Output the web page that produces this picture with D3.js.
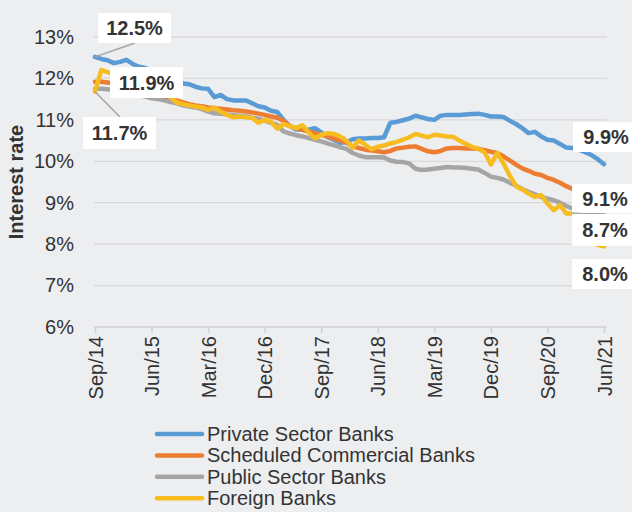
<!DOCTYPE html>
<html>
<head>
<meta charset="utf-8">
<script src="https://cdn.jsdelivr.net/npm/d3@7"></script>
<style>
  body { margin: 0; background: #edeef0; }
  text { font-family: "Liberation Sans", Arial, sans-serif; fill: #333; }
</style>
</head>
<body>
<svg id="chart" width="632" height="512"></svg>
<script>
// monthly, Sep 2014 .. Jun 2021
var months = d3.timeMonth.range(new Date(2014, 8, 1), new Date(2021, 6, 1));
var tickLabels = ["Sep/14", "Jun/15", "Mar/16", "Dec/16", "Sep/17", "Jun/18", "Mar/19", "Dec/19", "Sep/20", "Jun/21"];
var yTicks = [6, 7, 8, 9, 10, 11, 12, 13];
var seriesNames = ["Private Sector Banks", "Scheduled Commercial Banks", "Public Sector Banks", "Foreign Banks"];
var colors = ["#5b9bd5", "#ed7d31", "#a5a5a5", "#f7bc20"];

var privateBanks = [12.52, 12.47, 12.44, 12.37, 12.40, 12.45, 12.35, 12.28, 12.25, 12.20,
    12.15, 12.10, 12.05, 11.98, 11.88, 11.86, 11.80, 11.76, 11.75, 11.55,
    11.60, 11.50, 11.47, 11.47, 11.47, 11.40, 11.33, 11.30, 11.22, 11.19,
    11.00, 10.85, 10.77, 10.76, 10.76, 10.80, 10.70, 10.58, 10.52, 10.45,
    10.46, 10.53, 10.55, 10.55, 10.56, 10.56, 10.58, 10.93, 10.95, 10.99,
    11.03, 11.10, 11.06, 11.02, 11.00, 11.10, 11.12, 11.12, 11.12, 11.13,
    11.14, 11.15, 11.12, 11.08, 11.08, 11.07, 10.98, 10.90, 10.80, 10.68,
    10.71, 10.60, 10.52, 10.50, 10.42, 10.33, 10.32, 10.28, 10.22, 10.15,
    10.05, 9.93];
var scheduledBanks = [11.92, 11.92, 11.90, 11.88, 11.85, 11.80, 11.75, 11.70, 11.65, 11.60,
    11.57, 11.53, 11.50, 11.47, 11.42, 11.38, 11.35, 11.33, 11.30, 11.28,
    11.27, 11.25, 11.23, 11.22, 11.20, 11.18, 11.15, 11.12, 11.08, 11.05,
    10.97, 10.85, 10.80, 10.76, 10.72, 10.68, 10.64, 10.60, 10.55, 10.50,
    10.45, 10.36, 10.32, 10.28, 10.26, 10.24, 10.22, 10.25, 10.31, 10.33,
    10.35, 10.36, 10.30, 10.24, 10.22, 10.25, 10.31, 10.32, 10.32, 10.31,
    10.31, 10.30, 10.27, 10.23, 10.20, 10.12, 10.02, 9.92, 9.83, 9.77,
    9.70, 9.67, 9.60, 9.55, 9.48, 9.40, 9.33, 9.28, 9.23, 9.18,
    9.14, 9.10];
var publicBanks = [11.75, 11.75, 11.74, 11.72, 11.70, 11.68, 11.64, 11.60, 11.56, 11.52,
    11.50, 11.47, 11.43, 11.40, 11.35, 11.32, 11.30, 11.26, 11.20, 11.16,
    11.15, 11.13, 11.11, 11.10, 11.08, 11.05, 11.03, 10.98, 10.93, 10.88,
    10.72, 10.67, 10.63, 10.60, 10.56, 10.52, 10.48, 10.43, 10.39, 10.34,
    10.30, 10.20, 10.14, 10.10, 10.10, 10.10, 10.09, 10.02, 9.99, 9.98,
    9.95, 9.82, 9.79, 9.80, 9.82, 9.84, 9.86, 9.85, 9.85, 9.84,
    9.82, 9.80, 9.72, 9.63, 9.60, 9.56, 9.48, 9.41, 9.33, 9.26,
    9.20, 9.14, 9.10, 9.06, 9.00, 8.92, 8.86, 8.80, 8.76, 8.73,
    8.71, 8.70];
var foreignBanks = [11.68, 12.20, 12.15, 12.10, 12.05, 12.00, 11.95, 11.90, 11.85, 11.78,
    11.70, 11.62, 11.55, 11.42, 11.38, 11.35, 11.32, 11.30, 11.24, 11.30,
    11.20, 11.12, 11.06, 11.08, 11.06, 11.05, 10.93, 11.00, 10.95, 10.79,
    10.90, 10.85, 10.80, 10.87, 10.70, 10.55, 10.64, 10.68, 10.66, 10.60,
    10.50, 10.33, 10.50, 10.40, 10.29, 10.35, 10.38, 10.43, 10.47, 10.52,
    10.58, 10.66, 10.62, 10.58, 10.64, 10.62, 10.60, 10.59, 10.50, 10.42,
    10.35, 10.30, 10.22, 9.92, 10.20, 9.95, 9.65, 9.40, 9.32, 9.22,
    9.14, 9.18, 8.98, 8.82, 8.94, 8.74, 8.74, 8.55, 8.30, 8.05,
    7.98, 7.95];
var allSeries = [privateBanks, scheduledBanks, publicBanks, foreignBanks];

var svg = d3.select("#chart");
var fmt = d3.timeFormat("%b/%y");

var x = d3.scaleLinear().domain([0, months.length - 1]).range([95, 604]);
var y = d3.scaleLinear().domain([6, 13]).range([327, 37]);

svg.append("rect").attr("width", 632).attr("height", 512).attr("fill", "#edeef0");

// gridlines
svg.append("g").selectAll("line")
    .data(yTicks.filter(function(d) { return d > 6; }))
    .enter().append("line")
    .attr("x1", 94).attr("x2", 607)
    .attr("y1", function(d) { return y(d); })
    .attr("y2", function(d) { return y(d); })
    .attr("stroke", "#d8d9db").attr("stroke-width", 1.3);

// y axis
var yAxis = svg.append("g")
    .attr("transform", "translate(94,0)")
    .call(d3.axisLeft(y).tickValues(yTicks).tickSize(0).tickPadding(20)
        .tickFormat(function(d) { return d + "%"; }));
yAxis.select(".domain").remove();
yAxis.selectAll("text").style("font-size", "20px").attr("fill", "#333");

svg.append("text")
    .attr("transform", "translate(23,182) rotate(-90)")
    .attr("text-anchor", "middle")
    .style("font-size", "20px").style("font-weight", "bold")
    .text("Interest rate");

// x axis
var tickIdx = months.map(function(d, i) { return i; })
    .filter(function(i) { return tickLabels.indexOf(fmt(months[i])) >= 0; });
var xAxis = svg.append("g")
    .attr("transform", "translate(0,327)")
    .call(d3.axisBottom(x).tickValues(tickIdx).tickSize(6).tickPadding(8)
        .tickFormat(function(i) { return fmt(months[i]); }));
xAxis.select(".domain").attr("d", "M94,0H607").attr("stroke", "#d0d1d3").attr("stroke-width", 1.5);
xAxis.selectAll(".tick line").attr("stroke", "#d0d1d3").attr("stroke-width", 1.5);
xAxis.selectAll("text")
    .style("font-size", "20px").attr("fill", "#333")
    .attr("transform", "rotate(-90)")
    .attr("text-anchor", "end")
    .attr("dy", "0.35em")
    .attr("x", -9).attr("y", 0);

// lines
var line = d3.line()
    .x(function(d, i) { return x(i); })
    .y(function(d) { return y(d); });

svg.append("g").selectAll("path")
    .data(allSeries)
    .enter().append("path")
    .attr("d", line)
    .attr("fill", "none")
    .attr("stroke", function(d, i) { return colors[i]; })
    .attr("stroke-width", 4.5)
    .attr("stroke-linejoin", "round")
    .attr("stroke-linecap", "round");

// data labels
var last = months.length - 1;
var labels = [
    { v: privateBanks[0], i: 0, bx: 98, by: 13, w: 73, h: 30, leader: [135, 43] },
    { v: scheduledBanks[0], i: 0, bx: 110, by: 67, w: 73, h: 31 },
    { v: foreignBanks[0], i: 0, bx: 83, by: 117, w: 73, h: 32, leader: [120, 117] },
    { v: privateBanks[last], i: last, bx: 573, by: 122, w: 59, h: 30 },
    { v: scheduledBanks[last], i: last, bx: 572, by: 184, w: 60, h: 29 },
    { v: publicBanks[last], i: last, bx: 572, by: 214, w: 60, h: 32, leader: [572, 213] },
    { v: foreignBanks[last], i: last, bx: 572, by: 259, w: 60, h: 30 }
];

labels.forEach(function(l) {
    if (l.leader) {
        svg.append("line")
            .attr("x1", x(l.i)).attr("y1", y(l.v))
            .attr("x2", l.leader[0]).attr("y2", l.leader[1])
            .attr("stroke", "#a5a5a5").attr("stroke-width", 1.5);
    }
    svg.append("rect")
        .attr("x", l.bx).attr("y", l.by)
        .attr("width", l.w).attr("height", l.h)
        .attr("fill", "#fff");
    svg.append("text")
        .attr("x", l.bx + (l.i === 0 ? l.w / 2 : 33))
        .attr("y", l.by + l.h / 2)
        .attr("dy", "0.36em")
        .attr("text-anchor", "middle")
        .style("font-size", "20px").style("font-weight", "bold")
        .attr("fill", "#222")
        .text(l.v.toFixed(1) + "%");
});

// legend
var legend = svg.append("g").selectAll("g")
    .data(seriesNames)
    .enter().append("g")
    .attr("transform", function(d, i) { return "translate(0," + (434 + i * 21.4) + ")"; });
legend.append("line")
    .attr("x1", 157).attr("x2", 202)
    .attr("stroke", function(d, i) { return colors[i]; })
    .attr("stroke-width", 4.5).attr("stroke-linecap", "round");
legend.append("text")
    .attr("x", 207).attr("dy", "0.35em")
    .style("font-size", "20px")
    .text(function(d) { return d; });
</script>
</body>
</html>
